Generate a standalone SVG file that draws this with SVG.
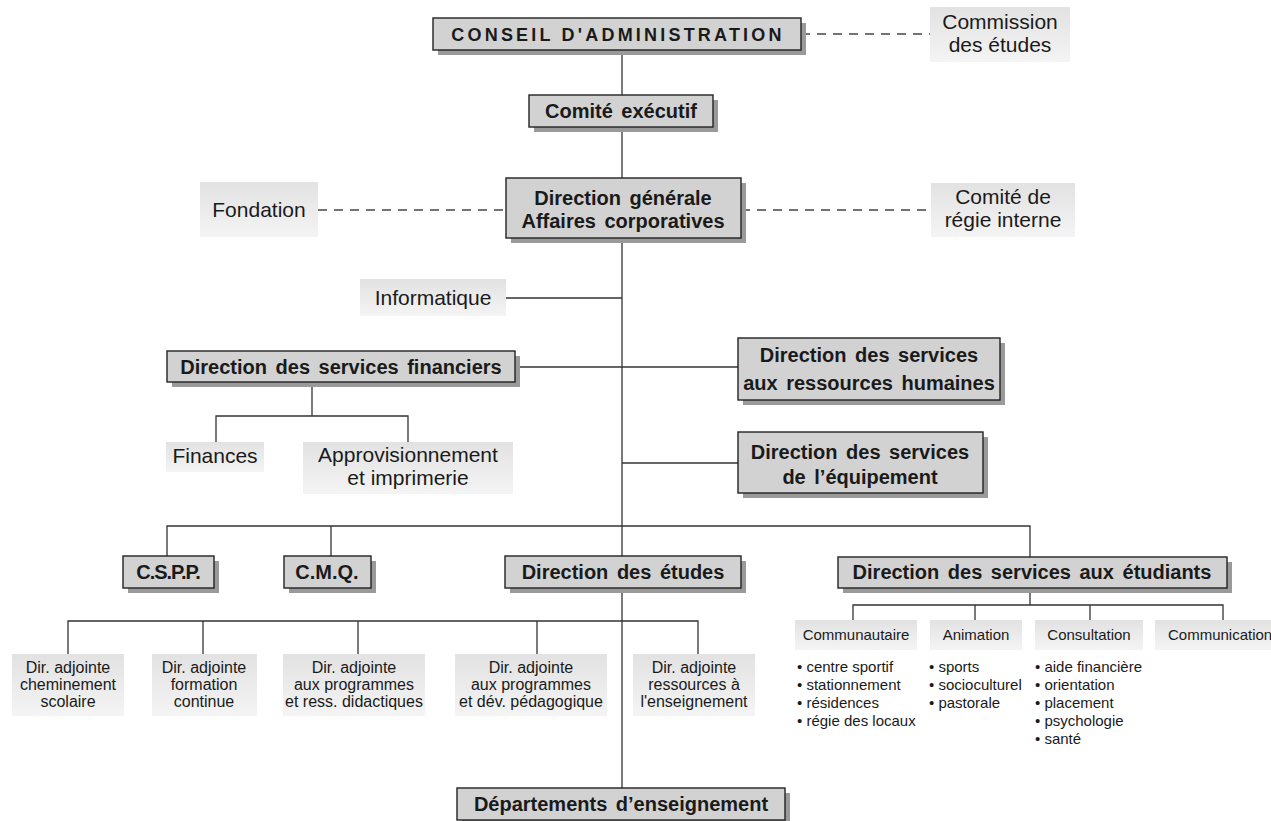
<svg xmlns="http://www.w3.org/2000/svg" width="1271" height="821" viewBox="0 0 1271 821">
<defs>
<linearGradient id="lg" x1="0" y1="0" x2="0" y2="1">
<stop offset="0" stop-color="#e2e2e2"/>
<stop offset="1" stop-color="#f4f4f4"/>
</linearGradient>
<style>
.sh{fill:#9a9a9a}
.mb{fill:#d2d2d2;stroke:#222;stroke-width:1.4}
.sb{fill:url(#lg)}
.t{font-family:"Liberation Sans",Arial,sans-serif;fill:#1a1a1a;text-anchor:middle}
.b{font-weight:bold;font-size:20px;word-spacing:3px}
.n{font-size:21px}
.s{font-size:15px}
.a{font-size:16px}
.l{font-family:"Liberation Sans",Arial,sans-serif;fill:#1a1a1a;font-size:15px}
.c{stroke:#333;stroke-width:1.3;fill:none}
.d{stroke:#444;stroke-width:1.3;fill:none;stroke-dasharray:9 7}
</style>
</defs>
<rect width="1271" height="821" fill="#fff"/>
<g id="connectors">
<line class="c" x1="622" y1="50" x2="622" y2="788"/>
<line class="d" x1="801" y1="34" x2="930" y2="34"/>
<line class="d" x1="318" y1="210" x2="506" y2="210"/>
<line class="d" x1="741" y1="210" x2="931" y2="210"/>
<line class="c" x1="506" y1="298" x2="622" y2="298"/>
<line class="c" x1="515" y1="367" x2="738" y2="367"/>
<line class="c" x1="622" y1="463" x2="738" y2="463"/>
<polyline class="c" points="312,382 312,416"/>
<polyline class="c" points="216,442 216,416 408,416 408,442"/>
<polyline class="c" points="167,556 167,526 1030,526 1030,557"/>
<line class="c" x1="331" y1="526" x2="331" y2="556"/>
<line class="c" x1="1030" y1="588" x2="1030" y2="605"/>
<polyline class="c" points="853,620 853,605 1223,605 1223,620"/>
<line class="c" x1="975" y1="605" x2="975" y2="620"/>
<line class="c" x1="1090" y1="605" x2="1090" y2="620"/>
<polyline class="c" points="68,654 68,621 698,621 698,654"/>
<line class="c" x1="203" y1="621" x2="203" y2="654"/>
<line class="c" x1="358" y1="621" x2="358" y2="654"/>
<line class="c" x1="537" y1="621" x2="537" y2="654"/>
</g>
<g id="conseil">
<rect class="sh" x="438" y="23" width="368" height="32"/>
<rect class="mb" x="433" y="18" width="368" height="32"/>
<text class="t" x="618" y="41" style="font-weight:bold;font-size:18px;letter-spacing:3.2px">CONSEIL D'ADMINISTRATION</text>
</g>
<g id="commission">
<rect class="sb" x="930" y="7" width="140" height="55"/>
<text class="t n" x="1000" y="29">Commission</text>
<text class="t n" x="1000" y="52">des études</text>
</g>
<g id="comite-executif">
<rect class="sh" x="534" y="100" width="184" height="32"/>
<rect class="mb" x="529" y="95" width="184" height="32"/>
<text class="t b" x="621" y="118">Comité exécutif</text>
</g>
<g id="direction-generale">
<rect class="sh" x="511" y="183" width="235" height="60"/>
<rect class="mb" x="506" y="178" width="235" height="60"/>
<text class="t b" x="623" y="205">Direction générale</text>
<text class="t b" x="623" y="228">Affaires corporatives</text>
</g>
<g id="fondation">
<rect class="sb" x="200" y="182" width="118" height="55"/>
<text class="t n" x="259" y="217">Fondation</text>
</g>
<g id="comite-regie">
<rect class="sb" x="931" y="183" width="144" height="54"/>
<text class="t n" x="1003" y="204">Comité de</text>
<text class="t n" x="1003" y="227">régie interne</text>
</g>
<g id="informatique">
<rect class="sb" x="360" y="279" width="146" height="37"/>
<text class="t n" x="433" y="305">Informatique</text>
</g>
<g id="financiers">
<rect class="sh" x="172" y="356" width="348" height="31"/>
<rect class="mb" x="167" y="351" width="348" height="31"/>
<text class="t b" x="341" y="374">Direction des services financiers</text>
</g>
<g id="finances">
<rect class="sb" x="166" y="442" width="98" height="30"/>
<text class="t n" x="215" y="463">Finances</text>
</g>
<g id="approvisionnement">
<rect class="sb" x="303" y="442" width="210" height="52"/>
<text class="t n" x="408" y="462">Approvisionnement</text>
<text class="t n" x="408" y="485">et imprimerie</text>
</g>
<g id="ressources-humaines">
<rect class="sh" x="743" y="343" width="262" height="62"/>
<rect class="mb" x="738" y="338" width="262" height="62"/>
<text class="t b" x="869" y="362">Direction des services</text>
<text class="t b" x="869" y="390">aux ressources humaines</text>
</g>
<g id="equipement">
<rect class="sh" x="743" y="437" width="245" height="61"/>
<rect class="mb" x="738" y="432" width="245" height="61"/>
<text class="t b" x="860" y="459">Direction des services</text>
<text class="t b" x="860" y="484">de l’équipement</text>
</g>
<g id="cspp">
<rect class="sh" x="128" y="561" width="91" height="32"/>
<rect class="mb" x="123" y="556" width="91" height="32"/>
<text class="t b" x="168" y="579" style="letter-spacing:-1px">C.S.P.P.</text>
</g>
<g id="cmq">
<rect class="sh" x="289" y="561" width="87" height="32"/>
<rect class="mb" x="284" y="556" width="87" height="32"/>
<text class="t b" x="327" y="579">C.M.Q.</text>
</g>
<g id="direction-etudes">
<rect class="sh" x="510" y="561" width="236" height="32"/>
<rect class="mb" x="505" y="556" width="236" height="32"/>
<text class="t b" x="623" y="579">Direction des études</text>
</g>
<g id="services-etudiants">
<rect class="sh" x="843" y="562" width="389" height="31"/>
<rect class="mb" x="838" y="557" width="389" height="31"/>
<text class="t b" x="1032" y="579">Direction des services aux étudiants</text>
</g>
<g id="communautaire">
<rect class="sb" x="795" y="620" width="122" height="30"/>
<text class="t s" x="856" y="640">Communautaire</text>
<text class="l" x="797" y="672">• centre sportif</text>
<text class="l" x="797" y="690">• stationnement</text>
<text class="l" x="797" y="708">• résidences</text>
<text class="l" x="797" y="726">• régie des locaux</text>
</g>
<g id="animation">
<rect class="sb" x="930" y="620" width="92" height="30"/>
<text class="t s" x="976" y="640">Animation</text>
<text class="l" x="929" y="672">• sports</text>
<text class="l" x="929" y="690">• socioculturel</text>
<text class="l" x="929" y="708">• pastorale</text>
</g>
<g id="consultation">
<rect class="sb" x="1035" y="620" width="108" height="30"/>
<text class="t s" x="1089" y="640">Consultation</text>
<text class="l" x="1035" y="672">• aide financière</text>
<text class="l" x="1035" y="690">• orientation</text>
<text class="l" x="1035" y="708">• placement</text>
<text class="l" x="1035" y="726">• psychologie</text>
<text class="l" x="1035" y="744">• santé</text>
</g>
<g id="communication">
<rect class="sb" x="1155" y="620" width="120" height="30"/>
<text class="l" x="1168" y="640">Communication</text>
</g>
<g id="adj-cheminement">
<rect class="sb" x="12" y="654" width="112" height="62"/>
<text class="t a" x="68" y="673">Dir. adjointe</text>
<text class="t a" x="68" y="690">cheminement</text>
<text class="t a" x="68" y="707">scolaire</text>
</g>
<g id="adj-formation">
<rect class="sb" x="152" y="654" width="105" height="62"/>
<text class="t a" x="204" y="673">Dir. adjointe</text>
<text class="t a" x="204" y="690">formation</text>
<text class="t a" x="204" y="707">continue</text>
</g>
<g id="adj-ress-didactiques">
<rect class="sb" x="283" y="654" width="142" height="62"/>
<text class="t a" x="354" y="673">Dir. adjointe</text>
<text class="t a" x="354" y="690">aux programmes</text>
<text class="t a" x="354" y="707">et ress. didactiques</text>
</g>
<g id="adj-dev-pedagogique">
<rect class="sb" x="455" y="654" width="152" height="62"/>
<text class="t a" x="531" y="673">Dir. adjointe</text>
<text class="t a" x="531" y="690">aux programmes</text>
<text class="t a" x="531" y="707">et dév. pédagogique</text>
</g>
<g id="adj-ressources">
<rect class="sb" x="633" y="654" width="122" height="62"/>
<text class="t a" x="694" y="673">Dir. adjointe</text>
<text class="t a" x="694" y="690">ressources à</text>
<text class="t a" x="694" y="707">l'enseignement</text>
</g>
<g id="departements">
<rect class="sh" x="462" y="793" width="328" height="32"/>
<rect class="mb" x="457" y="788" width="328" height="32"/>
<text class="t b" x="621" y="811">Départements d’enseignement</text>
</g>
</svg>
